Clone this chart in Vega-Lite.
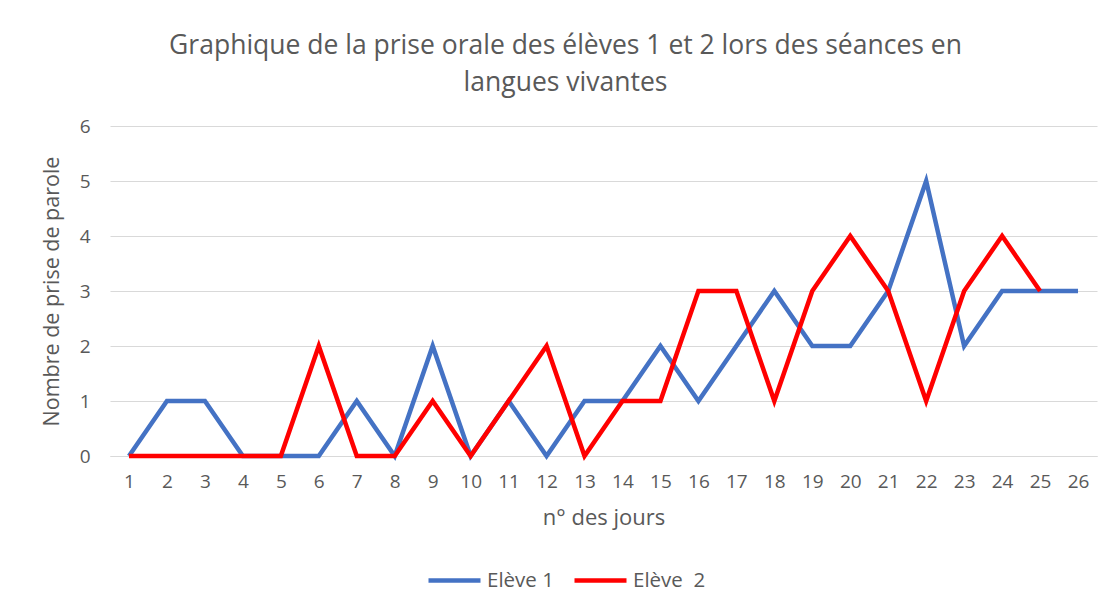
{
  "$schema": "https://vega.github.io/schema/vega-lite/v6.json",
  "autosize": "none",
  "width": 987,
  "height": 330,
  "padding": {"left": 110, "top": 126, "right": 16, "bottom": 160},
  "background": "white",
  "title": {
    "text": ["Graphique de la prise orale des élèves 1 et 2 lors des séances en", "langues vivantes"],
    "anchor": "middle",
    "dx": -38,
    "offset": 21,
    "font": "Open Sans",
    "fontSize": 26.5,
    "fontWeight": "normal",
    "color": "#595959",
    "lineHeight": 37
  },
  "config": {
    "view": {"stroke": null},
    "font": "Open Sans",
    "axis": {
      "labelColor": "#595959",
      "titleColor": "#595959",
      "labelFont": "Open Sans",
      "titleFont": "Open Sans",
      "titleFontWeight": "normal",
      "ticks": false,
      "gridColor": "#d9d9d9",
      "gridWidth": 1
    }
  },
  "data": {
    "values": [
      {"jour": 1, "eleve": "Elève 1", "n": 0},
      {"jour": 2, "eleve": "Elève 1", "n": 1},
      {"jour": 3, "eleve": "Elève 1", "n": 1},
      {"jour": 4, "eleve": "Elève 1", "n": 0},
      {"jour": 5, "eleve": "Elève 1", "n": 0},
      {"jour": 6, "eleve": "Elève 1", "n": 0},
      {"jour": 7, "eleve": "Elève 1", "n": 1},
      {"jour": 8, "eleve": "Elève 1", "n": 0},
      {"jour": 9, "eleve": "Elève 1", "n": 2},
      {"jour": 10, "eleve": "Elève 1", "n": 0},
      {"jour": 11, "eleve": "Elève 1", "n": 1},
      {"jour": 12, "eleve": "Elève 1", "n": 0},
      {"jour": 13, "eleve": "Elève 1", "n": 1},
      {"jour": 14, "eleve": "Elève 1", "n": 1},
      {"jour": 15, "eleve": "Elève 1", "n": 2},
      {"jour": 16, "eleve": "Elève 1", "n": 1},
      {"jour": 17, "eleve": "Elève 1", "n": 2},
      {"jour": 18, "eleve": "Elève 1", "n": 3},
      {"jour": 19, "eleve": "Elève 1", "n": 2},
      {"jour": 20, "eleve": "Elève 1", "n": 2},
      {"jour": 21, "eleve": "Elève 1", "n": 3},
      {"jour": 22, "eleve": "Elève 1", "n": 5},
      {"jour": 23, "eleve": "Elève 1", "n": 2},
      {"jour": 24, "eleve": "Elève 1", "n": 3},
      {"jour": 25, "eleve": "Elève 1", "n": 3},
      {"jour": 26, "eleve": "Elève 1", "n": 3},
      {"jour": 1, "eleve": "Elève  2", "n": 0},
      {"jour": 2, "eleve": "Elève  2", "n": 0},
      {"jour": 3, "eleve": "Elève  2", "n": 0},
      {"jour": 4, "eleve": "Elève  2", "n": 0},
      {"jour": 5, "eleve": "Elève  2", "n": 0},
      {"jour": 6, "eleve": "Elève  2", "n": 2},
      {"jour": 7, "eleve": "Elève  2", "n": 0},
      {"jour": 8, "eleve": "Elève  2", "n": 0},
      {"jour": 9, "eleve": "Elève  2", "n": 1},
      {"jour": 10, "eleve": "Elève  2", "n": 0},
      {"jour": 11, "eleve": "Elève  2", "n": 1},
      {"jour": 12, "eleve": "Elève  2", "n": 2},
      {"jour": 13, "eleve": "Elève  2", "n": 0},
      {"jour": 14, "eleve": "Elève  2", "n": 1},
      {"jour": 15, "eleve": "Elève  2", "n": 1},
      {"jour": 16, "eleve": "Elève  2", "n": 3},
      {"jour": 17, "eleve": "Elève  2", "n": 3},
      {"jour": 18, "eleve": "Elève  2", "n": 1},
      {"jour": 19, "eleve": "Elève  2", "n": 3},
      {"jour": 20, "eleve": "Elève  2", "n": 4},
      {"jour": 21, "eleve": "Elève  2", "n": 3},
      {"jour": 22, "eleve": "Elève  2", "n": 1},
      {"jour": 23, "eleve": "Elève  2", "n": 3},
      {"jour": 24, "eleve": "Elève  2", "n": 4},
      {"jour": 25, "eleve": "Elève  2", "n": 3}
    ]
  },
  "mark": {"type": "line", "strokeWidth": 4.5, "strokeJoin": "miter", "strokeCap": "butt"},
  "encoding": {
    "x": {
      "field": "jour",
      "type": "ordinal",
      "scale": {"type": "point", "padding": 0.5},
      "axis": {
        "title": "n° des jours",
        "labelAngle": 0,
        "labelFontSize": 19,
        "labelPadding": 16,
        "titleFontSize": 22,
        "titlePadding": 16,
        "domain": true,
        "domainColor": "#d9d9d9",
        "grid": false
      }
    },
    "y": {
      "field": "n",
      "type": "quantitative",
      "scale": {"domain": [0, 6]},
      "axis": {
        "title": "Nombre de prise de parole",
        "values": [0, 1, 2, 3, 4, 5, 6],
        "labelFontSize": 19,
        "labelPadding": 20,
        "titleFontSize": 21.5,
        "titlePadding": 16,
        "domain": false,
        "grid": true
      }
    },
    "color": {
      "field": "eleve",
      "type": "nominal",
      "scale": {"domain": ["Elève 1", "Elève  2"], "range": ["#4472C4", "#FF0000"]},
      "legend": {
        "title": null,
        "orient": "none",
        "direction": "horizontal",
        "legendX": 316,
        "legendY": 426,
        "symbolType": "stroke",
        "symbolSize": 2704,
        "symbolStrokeWidth": 4.5,
        "labelFontSize": 20.5,
        "labelColor": "#595959",
        "labelFont": "Open Sans",
        "labelExpr": "replace(datum.label, '  ', ' \u00a0')",
        "columnPadding": 11,
        "labelOffset": 4
      }
    }
  }
}
